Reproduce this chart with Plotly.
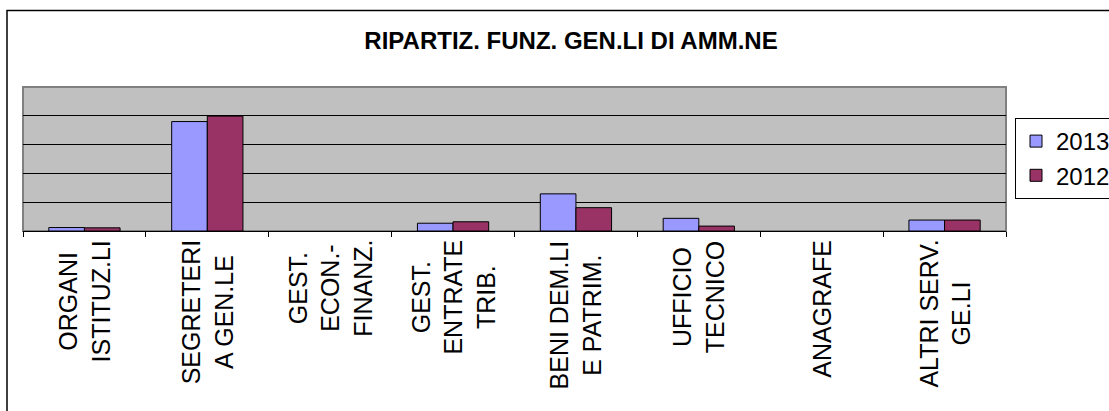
import plotly.graph_objects as go

categories = ["ORGANI ISTITUZ.LI", "SEGRETERIA GEN.LE", "GEST. ECON.-FINANZ.",
              "GEST. ENTRATE TRIB.", "BENI DEM.LI E PATRIM.", "UFFICIO TECNICO",
              "ANAGRAFE", "ALTRI SERV. GE.LI"]
tick_labels = ["ORGANI<br>ISTITUZ.LI", "SEGRETERI<br>A GEN.LE", "GEST.<br>ECON.-<br>FINANZ.",
               "GEST.<br>ENTRATE<br>TRIB.", "BENI DEM.LI<br>E PATRIM.", "UFFICIO<br>TECNICO",
               "ANAGRAFE", "ALTRI SERV.<br>GE.LI"]
# None = no bar drawn for that category
values_2013 = [0.12, 3.80, None, 0.27, 1.29, 0.44, None, 0.38]
values_2012 = [0.11, 3.99, None, 0.32, 0.81, 0.17, None, 0.38]
series_names = ["2013", "2012"]
colors = ["#9999FF", "#993366"]

FONT = "Arial, 'Liberation Sans', sans-serif"

fig = go.Figure()
for name, vals, col in zip(series_names, [values_2013, values_2012], colors):
    fig.add_trace(go.Bar(x=categories, y=vals, name=name,
                         marker=dict(color=col, line=dict(color="black", width=1))))

W, H = 1109, 411
ml, mr, mt, mb = 23, 103, 87, 180
pw, ph = W - ml - mr, H - mt - mb

annotations = []
for c, lab in zip(categories, tick_labels):
    annotations.append(dict(x=c, xref="x", y=0, yref="paper", yanchor="top", xanchor="center",
                            text=lab, textangle=-90, align="center", showarrow=False,
                            yshift=-7, font=dict(family=FONT, size=25, color="black")))

fig.update_layout(
    width=W, height=H,
    margin=dict(l=ml, r=mr, t=mt, b=mb, autoexpand=False),
    paper_bgcolor="white", plot_bgcolor="#C0C0C0",
    barmode="group", bargap=0.42, bargroupgap=0,
    font=dict(family=FONT, size=24, color="black"),
    title=dict(text="<b>RIPARTIZ. FUNZ. GEN.LI DI AMM.NE</b>", x=571 / W, xanchor="center",
               y=1 - 41 / H, yanchor="middle", yref="container", xref="container",
               font=dict(family=FONT, size=24, color="black")),
    legend=dict(x=(1015 - ml) / pw, xanchor="left", y=(mt + ph - 118) / ph, yanchor="top",
                bgcolor="white", bordercolor="black", borderwidth=1,
                font=dict(family=FONT, size=24)),
    xaxis=dict(showticklabels=False, ticks="outside", tickson="boundaries", ticklen=5,
               tickcolor="black", showline=True, linecolor="black", linewidth=1,
               showgrid=False, zeroline=False),
    yaxis=dict(range=[0, 5], dtick=1, showticklabels=False, showgrid=True,
               gridcolor="black", gridwidth=1, zeroline=False, ticks=""),
    annotations=annotations,
    shapes=[
        dict(type="rect", xref="paper", yref="paper", x0=0, x1=1, y0=0, y1=1,
             line=dict(color="#808080", width=2), layer="below"),
        dict(type="rect", xref="paper", yref="paper", x0=(7 - ml) / pw, x1=1.2,
             y0=-1.5, y1=(mt + ph - 10.5) / ph, line=dict(color="black", width=1.5),
             layer="below"),
    ],
    showlegend=True,
)

fig.write_html("out.html", config={"displayModeBar": False},
               post_script="document.body.style.margin='0px';")
